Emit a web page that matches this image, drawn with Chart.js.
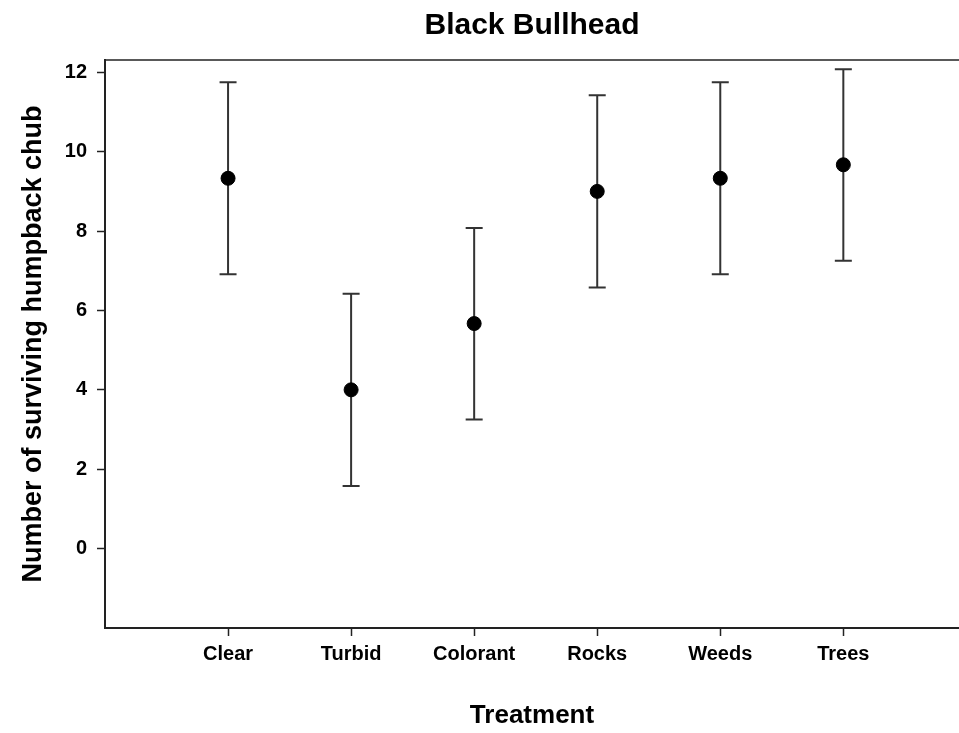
<!DOCTYPE html>
<html>
<head>
<meta charset="utf-8">
<title>Black Bullhead</title>
<script src="https://cdn.jsdelivr.net/npm/chart.js@4.4.1/dist/chart.umd.min.js"></script>
<style>
  html, body { margin: 0; padding: 0; background: #fff; overflow: hidden; }
  #wrap { width: 959px; height: 733px; }
</style>
</head>
<body>
<div id="wrap"><canvas id="grafica" width="959" height="733"></canvas></div>
<script>
// datos
const tratamientos = ['Clear', 'Turbid', 'Colorant', 'Rocks', 'Weeds', 'Trees'];
const posiciones = [1, 2, 3, 4, 5, 6];
const medias = [9.33, 4.0, 5.67, 9.0, 9.33, 9.67];
const limiteInferior = [6.91, 1.58, 3.25, 6.58, 6.91, 7.25];
const limiteSuperior = [11.75, 6.42, 8.08, 11.42, 11.75, 12.08];
const marcasY = [0, 2, 4, 6, 8, 10, 12];

const FUENTE = 'Arial, "Liberation Sans", Helvetica, sans-serif';

// barras de error y linea superior del marco
const pluginErrores = {
    id: 'barrasError',
    beforeDatasetsDraw(chart) {
        const ctx = chart.ctx;
        const x = chart.scales.x;
        const y = chart.scales.y;
        const area = chart.chartArea;
        ctx.save();
        ctx.strokeStyle = '#222';
        ctx.lineWidth = 1.5;
        ctx.beginPath();
        ctx.moveTo(area.left, area.top);
        ctx.lineTo(area.right, area.top);
        ctx.stroke();

        ctx.strokeStyle = '#333';
        ctx.lineWidth = 2;
        const medio = 8.5;
        posiciones.forEach((p, i) => {
            const px = x.getPixelForValue(p);
            const yLo = y.getPixelForValue(limiteInferior[i]);
            const yHi = y.getPixelForValue(limiteSuperior[i]);
            ctx.beginPath();
            ctx.moveTo(px, yLo);
            ctx.lineTo(px, yHi);
            ctx.moveTo(px - medio, yLo);
            ctx.lineTo(px + medio, yLo);
            ctx.moveTo(px - medio, yHi);
            ctx.lineTo(px + medio, yHi);
            ctx.stroke();
        });
        ctx.restore();
    }
};

const ctx = document.getElementById('grafica').getContext('2d');
new Chart(ctx, {
    type: 'scatter',
    data: {
        datasets: [{
            label: 'Media',
            data: posiciones.map((p, i) => ({ x: p, y: medias[i] })),
            backgroundColor: '#000',
            borderColor: '#000',
            pointRadius: 7,
            pointHoverRadius: 7
        }]
    },
    options: {
        responsive: false,
        animation: false,
        layout: { autoPadding: false, padding: 0 },
        scales: {
            x: {
                type: 'linear',
                min: 0,
                max: 6.94,
                afterBuildTicks: (scale) => {
                    scale.ticks = posiciones.map(v => ({ value: v }));
                },
                afterFit: (scale) => {
                    scale.height = 105;
                    scale.paddingLeft = 0;
                    scale.paddingRight = 0;
                },
                grid: {
                    display: true,
                    drawOnChartArea: false,
                    drawTicks: true,
                    tickLength: 8,
                    tickColor: '#222',
                    tickWidth: 1.5
                },
                border: { display: true, color: '#222', width: 2 },
                ticks: {
                    autoSkip: false,
                    maxRotation: 0,
                    padding: 6,
                    color: '#000',
                    font: { family: FUENTE, size: 20, weight: 'bold' },
                    callback: (v) => tratamientos[posiciones.indexOf(v)] || ''
                },
                title: {
                    display: true,
                    text: 'Treatment',
                    color: '#000',
                    font: { family: FUENTE, size: 26, weight: 'bold', lineHeight: 1 },
                    padding: { top: 0, bottom: 4 }
                }
            },
            y: {
                min: -2,
                max: 12.31,
                afterBuildTicks: (scale) => {
                    scale.ticks = marcasY.map(v => ({ value: v }));
                },
                afterFit: (scale) => {
                    scale.width = 105;
                    scale.paddingTop = 0;
                    scale.paddingBottom = 0;
                },
                grid: {
                    display: true,
                    drawOnChartArea: false,
                    drawTicks: true,
                    tickLength: 8,
                    tickColor: '#222',
                    tickWidth: 1.5
                },
                border: { display: true, color: '#222', width: 2 },
                ticks: {
                    padding: 10,
                    color: '#000',
                    font: { family: FUENTE, size: 20, weight: 'bold' }
                },
                title: {
                    display: true,
                    text: 'Number of surviving humpback chub',
                    color: '#000',
                    font: { family: FUENTE, size: 27, weight: 'bold', lineHeight: 1 },
                    padding: { top: 20, bottom: 0 }
                }
            }
        },
        plugins: {
            legend: { display: false },
            tooltip: { enabled: false },
            title: {
                display: true,
                text: 'Black Bullhead',
                fullSize: false,
                color: '#000',
                font: { family: FUENTE, size: 30, weight: 'bold', lineHeight: 1 },
                padding: { top: 11, bottom: 19 }
            }
        }
    },
    plugins: [pluginErrores]
});
</script>
</body>
</html>
